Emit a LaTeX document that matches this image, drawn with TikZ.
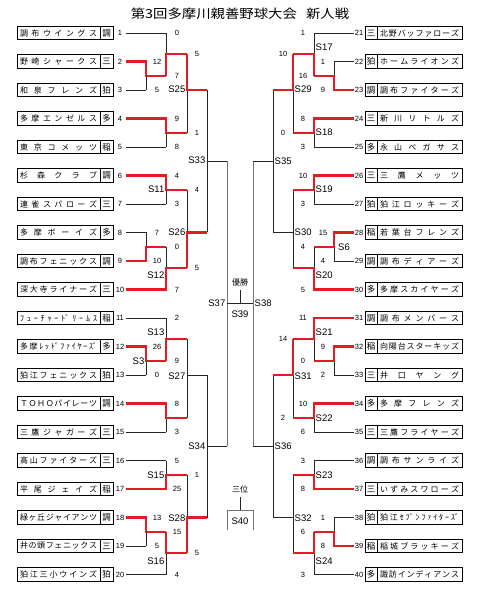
\documentclass[tikz,border=0pt]{standalone}
\usepackage{graphicx}
\usepackage{fontspec}
\setmainfont{Liberation Sans}
\newfontfamily\jp{Noto Sans CJK JP}
\definecolor{redline}{RGB}{226,28,36}
\let\sprdend\relax
\def\sprdendmark{\sprdend}
\def\sprdA#1{\def\sprdtmp{#1}\ifx\sprdtmp\sprdendmark\else\hfill#1\expandafter\sprdA\fi}
\def\sprdB#1{#1\sprdA}
\newcommand\sprd[1]{\sprdB#1\sprdend}
\tikzset{
  ln/.style={draw=black!85, line width=0.75pt},
  gl/.style={draw=black!55, line width=0.75pt},
  rd/.style={draw=redline, line width=2.1pt},
  namebox/.style={draw, line width=0.9pt, minimum width=83pt, minimum height=13.3pt, inner sep=0pt, font=\jp\fontsize{8}{9}\selectfont},
  regbox/.style={draw, line width=0.9pt, minimum width=13pt, minimum height=13.3pt, inner sep=0pt, font=\jp\fontsize{8.5}{9}\selectfont},
  num/.style={inner sep=0pt, font=\fontsize{7.5}{8}\selectfont},
  score/.style={inner sep=0pt, font=\fontsize{7.5}{8}\selectfont},
  mlab/.style={inner sep=0pt, font=\fontsize{9.5}{10}\selectfont},
  jl/.style={inner sep=0pt, font=\jp\fontsize{8}{9}\selectfont},
}
\newcommand\lteam[4]{%
  \node[namebox] (n#1) at (58.5,#2) {\hbox to 77pt{\sprd{#3}}};
  \node[regbox] (r#1) at (106.5,#2) {#4};
  \node[num] (k#1) at (120,#2) {#1};
  \coordinate (t#1) at (126,#2);}
\newcommand\rteam[4]{%
  \node[regbox, minimum width=12pt] (r#1) at (371,#2) {#4};
  \node[namebox, minimum width=85pt] (n#1) at (419.5,#2) {\hbox to 79pt{\sprd{#3}}};
  \node[num] (k#1) at (359,#2) {#1};
  \coordinate (t#1) at (353.5,#2);}
\newcommand\mkmatch[6][ln]{%
  \coordinate (#2t) at (#3,#4);
  \coordinate (#2b) at (#3,#5);
  \coordinate (#2o) at (#3,#6);
  \draw[#1] (#2t) -- (#2b);}
\begin{document}
\begin{tikzpicture}[x=1pt,y=-1pt]
\fill[white] (0,0) rectangle (480,601);
\useasboundingbox (0,0) rectangle (480,601);
\node[inner sep=0pt] (title) at (240,14) {\scalebox{1.15}[1]{\jp\fontsize{12.5}{14}\selectfont 第3回多摩川親善野球大会\hspace{8pt}新人戦}};

% ---- teams left
\lteam{1}{33}{調布ウイングス}{調}
\lteam{2}{61.5}{野崎シャークス}{三}
\lteam{3}{90}{和泉フレンズ}{狛}
\lteam{4}{118.5}{多摩エンゼルス}{多}
\lteam{5}{147}{東京コメッツ}{稲}
\lteam{6}{175.5}{杉森クラブ}{調}
\lteam{7}{204}{連雀スパローズ}{三}
\lteam{8}{232.5}{多摩ボーイズ}{多}
\lteam{9}{261}{調布フェニックス}{調}
\lteam{10}{289.5}{深大寺ライナーズ}{三}
\lteam{11}{318}{ﾌｭｰﾁｬｰ{ﾄﾞ}ﾘｰﾑｽ}{稲}
\lteam{12}{346.5}{多摩ﾚｯ{ﾄﾞ}ﾌｧｲﾔｰ{ｽﾞ}}{多}
\lteam{13}{375}{狛江フェニックス}{狛}
\lteam{14}{403.5}{ＴＯＨＯパイレーツ}{調}
\lteam{15}{432}{三鷹ジャガーズ}{三}
\lteam{16}{460.5}{高山ファイターズ}{三}
\lteam{17}{489}{平尾ジェイズ}{稲}
\lteam{18}{517.5}{緑ヶ丘ジャイアンツ}{調}
\lteam{19}{546}{井の頭フェニックス}{三}
\lteam{20}{574.5}{狛江三小ウインズ}{狛}
% ---- teams right
\rteam{21}{33}{北野バッファローズ}{三}
\rteam{22}{61.5}{ホームライオンズ}{狛}
\rteam{23}{90}{調布ファイターズ}{調}
\rteam{24}{118.5}{新川リトルズ}{三}
\rteam{25}{147}{永山ペガサス}{多}
\rteam{26}{175.5}{三鷹メッツ}{三}
\rteam{27}{204}{狛江ロッキーズ}{狛}
\rteam{28}{232.5}{若葉台フレンズ}{稲}
\rteam{29}{261}{調布ディアーズ}{調}
\rteam{30}{289.5}{多摩スカイヤーズ}{多}
\rteam{31}{318}{調布メンバース}{調}
\rteam{32}{346.5}{向陽台スターキッズ}{稲}
\rteam{33}{375}{井口ヤング}{三}
\rteam{34}{403.5}{多摩フレンズ}{多}
\rteam{35}{432}{三鷹フライヤーズ}{三}
\rteam{36}{460.5}{調布サンライズ}{調}
\rteam{37}{489}{いずみスワローズ}{三}
\rteam{38}{517.5}{狛江ｾ{ﾌﾞ}ﾝﾌｧｲﾀｰ{ｽﾞ}}{狛}
\rteam{39}{546}{稲城ブラッキーズ}{稲}
\rteam{40}{574.5}{諏訪インディアンス}{多}

% ---- matches left
\mkmatch{La}{146}{61.5}{90}{75.75}
\mkmatch{Lb}{166}{33}{75.75}{54.375}
\mkmatch{Lc}{166}{118.5}{147}{132.75}
\mkmatch{S25}{187}{54.375}{132.75}{90}
\mkmatch{S11}{166}{175.5}{204}{189.75}
\mkmatch{Ld}{146}{232.5}{261}{246.75}
\mkmatch{S12}{166}{246.75}{289.5}{268.125}
\mkmatch{S26}{187}{189.75}{268.125}{232.5}
\mkmatch{S3}{146}{346.5}{375}{360.75}
\mkmatch{S13}{166}{318}{360.75}{339.375}
\mkmatch{Le}{166}{403.5}{432}{417.75}
\mkmatch{S27}{187}{339.375}{417.75}{375}
\mkmatch{S15}{166}{460.5}{489}{474.75}
\mkmatch{Lf}{146}{517.5}{546}{531.75}
\mkmatch{S16}{166}{531.75}{574.5}{553.125}
\mkmatch{S28}{187}{474.75}{553.125}{517.5}
\mkmatch{S33}{207}{90}{232.5}{161.25}
\mkmatch{S34}{207}{375}{517.5}{446.25}
\mkmatch[gl]{S37}{227}{161.25}{446.25}{303.75}
% ---- matches right
\mkmatch{Ra}{334}{61.5}{90}{75.75}
\mkmatch{S17}{314}{33}{75.75}{54.375}
\mkmatch{S18}{314}{118.5}{147}{132.75}
\mkmatch{S29}{293}{54.375}{132.75}{90}
\mkmatch{S19}{314}{175.5}{204}{189.75}
\mkmatch{S6}{334}{232.5}{261}{246.75}
\mkmatch{S20}{314}{246.75}{289.5}{268.125}
\mkmatch{S30}{293}{189.75}{268.125}{232.5}
\mkmatch{Rb}{334}{346.5}{375}{360.75}
\mkmatch{S21}{314}{318}{360.75}{339.375}
\mkmatch{S22}{314}{403.5}{432}{417.75}
\mkmatch{S31}{293}{339.375}{417.75}{375}
\mkmatch{S23}{314}{460.5}{489}{474.75}
\mkmatch{Rc}{334}{517.5}{546}{531.75}
\mkmatch{S24}{314}{531.75}{574.5}{553.125}
\mkmatch{S32}{293}{474.75}{553.125}{517.5}
\mkmatch{S35}{273}{90}{232.5}{161.25}
\mkmatch{S36}{273}{375}{517.5}{446.25}
\mkmatch[gl]{S38}{253}{161.25}{446.25}{303.75}

% ---- team lines
\draw[ln] (t1) -- (Lbt);  \draw[ln] (t2) -- (Lat);  \draw[ln] (t3) -- (Lab);
\draw[ln] (t4) -- (Lct);  \draw[ln] (t5) -- (Lcb);  \draw[ln] (t6) -- (S11t);
\draw[ln] (t7) -- (S11b); \draw[ln] (t8) -- (Ldt);  \draw[ln] (t9) -- (Ldb);
\draw[ln] (t10) -- (S12b); \draw[ln] (t11) -- (S13t); \draw[ln] (t12) -- (S3t);
\draw[ln] (t13) -- (S3b); \draw[ln] (t14) -- (Let); \draw[ln] (t15) -- (Leb);
\draw[ln] (t16) -- (S15t); \draw[ln] (t17) -- (S15b); \draw[ln] (t18) -- (Lft);
\draw[ln] (t19) -- (Lfb); \draw[ln] (t20) -- (S16b);
\draw[ln] (t21) -- (S17t); \draw[ln] (t22) -- (Rat); \draw[ln] (t23) -- (Rab);
\draw[ln] (t24) -- (S18t); \draw[ln] (t25) -- (S18b); \draw[ln] (t26) -- (S19t);
\draw[ln] (t27) -- (S19b); \draw[ln] (t28) -- (S6t); \draw[ln] (t29) -- (S6b);
\draw[ln] (t30) -- (S20b); \draw[ln] (t31) -- (S21t); \draw[ln] (t32) -- (Rbt);
\draw[ln] (t33) -- (Rbb); \draw[ln] (t34) -- (S22t); \draw[ln] (t35) -- (S22b);
\draw[ln] (t36) -- (S23t); \draw[ln] (t37) -- (S23b); \draw[ln] (t38) -- (Rct);
\draw[ln] (t39) -- (Rcb); \draw[ln] (t40) -- (S24b);
% ---- outputs
\draw[ln] (Lao) -- (Lbb); \draw[ln] (Lbo) -- (S25t); \draw[ln] (Lco) -- (S25b);
\draw[ln] (S25o) -- (S33t); \draw[ln] (S11o) -- (S26t); \draw[ln] (Ldo) -- (S12t);
\draw[ln] (S12o) -- (S26b); \draw[ln] (S26o) -- (S33b); \draw[ln] (S3o) -- (S13b);
\draw[ln] (S13o) -- (S27t); \draw[ln] (Leo) -- (S27b); \draw[ln] (S27o) -- (S34t);
\draw[ln] (S15o) -- (S28t); \draw[ln] (Lfo) -- (S16t); \draw[ln] (S16o) -- (S28b);
\draw[ln] (S28o) -- (S34b); \draw[ln] (S33o) -- (S37t); \draw[ln] (S34o) -- (S37b);
\draw[ln] (Rao) -- (S17b); \draw[ln] (S17o) -- (S29t); \draw[ln] (S18o) -- (S29b);
\draw[ln] (S29o) -- (S35t); \draw[ln] (S19o) -- (S30t); \draw[ln] (S6o) -- (S20t);
\draw[ln] (S20o) -- (S30b); \draw[ln] (S30o) -- (S35b); \draw[ln] (Rbo) -- (S21b);
\draw[ln] (S21o) -- (S31t); \draw[ln] (S22o) -- (S31b); \draw[ln] (S31o) -- (S36t);
\draw[ln] (S23o) -- (S32t); \draw[ln] (Rco) -- (S24t); \draw[ln] (S24o) -- (S32b);
\draw[ln] (S32o) -- (S36b); \draw[ln] (S35o) -- (S38t); \draw[ln] (S36o) -- (S38b);

% ---- red winner paths left
\draw[rd] (t2) -- (Lat) -- (Lao) -- (Lbb);
\draw[rd] (Lbb) -- (Lbo) -- (S25t);
\draw[rd] (t4) -- (Lct) -- (Lco) -- (S25b);
\draw[rd] (S25t) -- (S25o) -- (S33t);
\draw[rd] (t6) -- (S11t) -- (S11o) -- (S26t);
\draw[rd] (t9) -- (Ldb) -- (Ldo) -- (S12t);
\draw[rd] (t10) -- (S12b) -- (S12o) -- (S26b);
\draw[rd] (S26b) -- (S26o) -- (S33b);
\draw[rd] (t12) -- (S3t) -- (S3o) -- (S13b);
\draw[rd] (S13b) -- (S13o) -- (S27t);
\draw[rd] (t14) -- (Let) -- (Leo) -- (S27b);
\draw[rd] (t17) -- (S15b) -- (S15o) -- (S28t);
\draw[rd] (t18) -- (Lft) -- (Lfo) -- (S16t);
\draw[rd] (S16t) -- (S16o) -- (S28b);
\draw[rd] (S28b) -- (S28o) -- (S34b);
% ---- red winner paths right
\draw[rd] (t23) -- (Rab) -- (Rao) -- (S17b);
\draw[rd] (S17b) -- (S17o) -- (S29t);
\draw[rd] (t24) -- (S18t) -- (S18o) -- (S29b);
\draw[rd] (S29t) -- (S29o) -- (S35t);
\draw[rd] (t26) -- (S19t) -- (S19o) -- (S30t);
\draw[rd] (t28) -- (S6t) -- (S6o) -- (S20t);
\draw[rd] (t30) -- (S20b) -- (S20o) -- (S30b);
\draw[rd] (t32) -- (Rbt) -- (Rbo) -- (S21b);
\draw[rd] (t31) -- (S21t) -- (S21o) -- (S31t);
\draw[rd] (t34) -- (S22t) -- (S22o) -- (S31b);
\draw[rd] (S31t) -- (S31o) -- (S36t);
\draw[rd] (t37) -- (S23b) -- (S23o) -- (S32t);
\draw[rd] (t39) -- (Rcb) -- (Rco) -- (S24t);
\draw[rd] (S24t) -- (S24o) -- (S32b);

% ---- final and third place
\draw[ln] (S37o) -- (S38o);
\coordinate (fin) at (240,303.75);
\coordinate (fintop) at (240,290);
\draw[ln] (fin) -- (fintop);
\node[jl] (champ) at (240,282) {優勝};
\node[mlab] (s39) at (240,314) {S39};
\node[jl] (third) at (240,489) {三位};
\coordinate (th0) at (240,497);
\coordinate (th1) at (240,510);
\coordinate (thl) at (227,510);
\coordinate (thr) at (253,510);
\coordinate (thl2) at (227,530);
\coordinate (thr2) at (253,530);
\draw[ln] (th0) -- (th1);
\draw[gl] (thl2) -- (thl) -- (thr) -- (thr2);
\node[mlab] (s40) at (240,521) {S40};

% ---- scores
\foreach \x/\y/\s [count=\k] in {
  157/61.5/12, 157/90/5, 177/33/0, 177/75.75/7, 177/118.5/9, 177/147/8,
  197/54.4/5, 197/132.75/1, 177/175.5/4, 177/204/3, 157/232.5/7, 157/261/10,
  177/246.75/0, 177/289.5/7, 197/189.75/4, 197/268.1/5, 157/346.5/26, 157/375/0,
  177/318/2, 177/360.75/9, 177/403.5/8, 177/432/3, 177/460.5/5, 177/489/25,
  157/517.5/13, 157/546/5, 177/531.75/15, 177/574.5/4, 197/474.75/1, 197/553.1/5,
  323/61.5/1, 323/90/9, 303/33/1, 303/75.75/16, 303/118.5/8, 303/147/3,
  283/54.4/10, 283/132.75/0, 303/175.5/10, 303/204/3, 323/232.5/15, 323/261/4,
  303/246.75/4, 303/289.5/5, 323/346.5/9, 323/375/2, 303/318/11, 303/360.75/0,
  303/403.5/10, 303/432/6, 283/339.4/14, 283/417.75/2, 303/460.5/3, 303/489/8,
  323/517.5/1, 323/546/8, 303/531.75/6, 303/574.5/3}
  \node[score] (sc\k) at (\x,\y) {\s};

% ---- match labels
\foreach \x/\y/\s in {185.5/89/S25, 205.5/160/S33, 164.5/189/S11, 164.5/275/S12,
  185.5/232/S26, 144.5/361/S3, 164.5/332/S13, 185.5/376/S27, 205.5/446/S34,
  164.5/475/S15, 164.5/561/S16, 185.5/518/S28, 225.5/303/S37}
  \node[mlab, anchor=east] (lab\s) at (\x,\y) {\s};
\foreach \x/\y/\s in {315.5/47/S17, 315.5/132/S18, 294.5/89/S29, 315.5/189/S19,
  338/247/S6, 315.5/275/S20, 294.5/232/S30, 315.5/332/S21, 315.5/418/S22,
  294.5/376/S31, 315.5/475/S23, 315.5/561/S24, 294.5/518/S32, 274.5/161/S35,
  274.5/446/S36, 254.5/303/S38}
  \node[mlab, anchor=west] (lab\s) at (\x,\y) {\s};
\end{tikzpicture}
\end{document}
